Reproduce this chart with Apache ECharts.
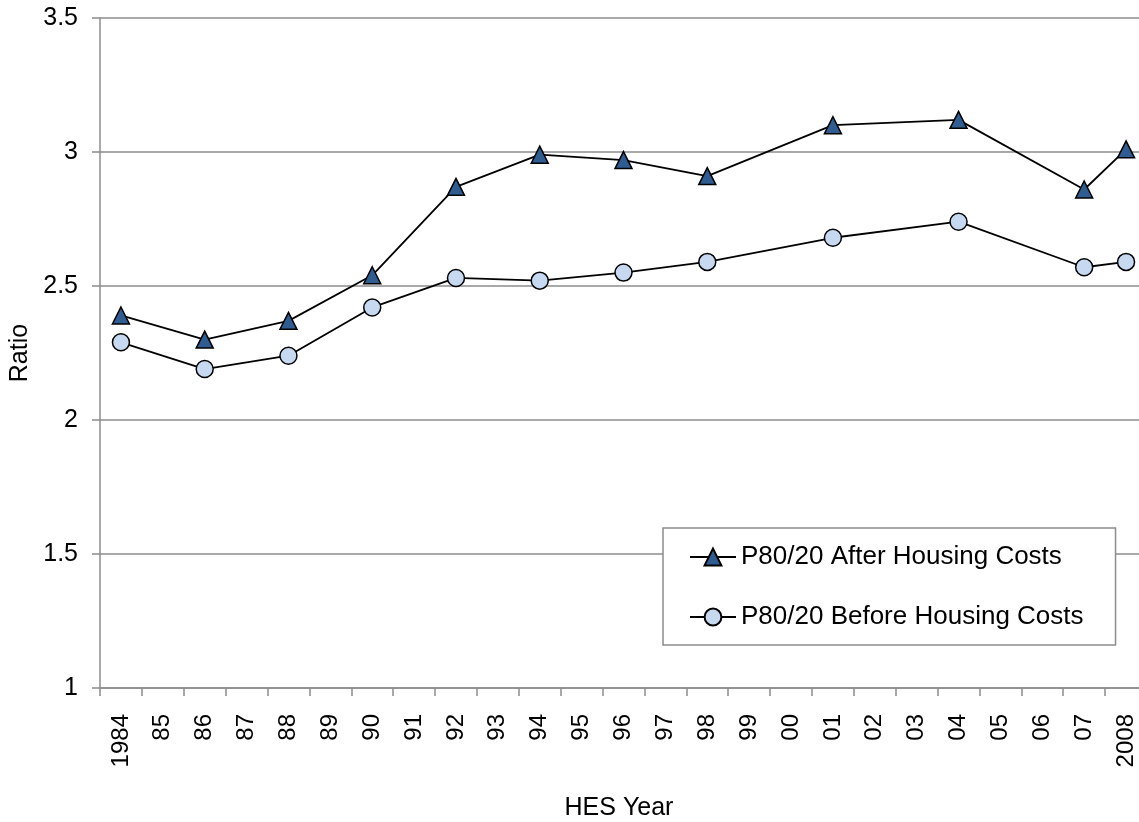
<!DOCTYPE html>
<html>
<head>
<meta charset="utf-8">
<script src="https://cdn.jsdelivr.net/npm/echarts@6/dist/echarts.min.js"></script>
<style>
html,body{margin:0;padding:0;background:#fff;}
#chart{width:1139px;height:822px;}
</style>
</head>
<body>
<div id="chart"></div>
<script>
const categories = ['1984','85','86','87','88','89','90','91','92','93','94','95','96','97','98','99','00','01','02','03','04','05','06','07','2008'];
const afterHousing = [2.39,null,2.30,null,2.37,null,2.54,null,2.87,null,2.99,null,2.97,null,2.91,null,null,3.10,null,null,3.12,null,null,2.86,3.01];
const beforeHousing = [2.29,null,2.19,null,2.24,null,2.42,null,2.53,null,2.52,null,2.55,null,2.59,null,null,2.68,null,null,2.74,null,null,2.57,2.59];
const seriesNames = ['P80/20 After Housing Costs','P80/20 Before Housing Costs'];
const yTicks = {min:1, max:3.5, interval:0.5};

const FONT = 'Liberation Sans, Arial, sans-serif';
const chart = echarts.init(document.getElementById('chart'), null, {renderer:'canvas'});
chart.setOption({
  animation:false,
  backgroundColor:'#ffffff',
  grid:{left:100, top:18, width:1047, height:670, containLabel:false, outerBoundsMode:'none'},
  legend:{
    left:663, top:528,
    orient:'vertical',
    backgroundColor:'#ffffff',
    borderColor:'#8c8c8c', borderWidth:1.5,
    padding:[16,32,15,26],
    itemGap:34,
    itemWidth:46, itemHeight:21,
    textStyle:{fontFamily:FONT, fontSize:26, color:'#000'},
    data:seriesNames
  },
  xAxis:{
    type:'category',
    data:categories,
    boundaryGap:true,
    name:'HES Year',
    nameLocation:'middle',
    nameGap:108,
    nameTextStyle:{fontFamily:FONT, fontSize:25, color:'#000', padding:[0,9,0,0]},
    axisLine:{lineStyle:{color:'#8c8c8c', width:1.5}},
    axisTick:{show:true, interval:0, length:8, lineStyle:{color:'#8c8c8c', width:1.5}},
    axisLabel:{interval:0, rotate:90, margin:26, fontFamily:FONT, fontSize:24, color:'#000'},
    splitLine:{show:false}
  },
  yAxis:{
    type:'value',
    min:yTicks.min, max:yTicks.max, interval:yTicks.interval,
    name:'Ratio',
    nameLocation:'middle',
    nameGap:67,
    nameTextStyle:{fontFamily:FONT, fontSize:25, color:'#000'},
    axisLine:{show:true, lineStyle:{color:'#8c8c8c', width:1.5}},
    axisTick:{show:true, length:8, lineStyle:{color:'#8c8c8c', width:1.5}},
    axisLabel:{margin:22, fontFamily:FONT, fontSize:25, color:'#000'},
    splitLine:{show:true, lineStyle:{color:'#8c8c8c', width:1.5}}
  },
  series:[
    {
      name:seriesNames[0], type:'line', data:afterHousing, connectNulls:true,
      symbol:'triangle', symbolSize:[17,17],
      lineStyle:{color:'#000', width:1.8},
      itemStyle:{color:'#2f5d91', borderColor:'#000', borderWidth:1.5},
      z:3
    },
    {
      name:seriesNames[1], type:'line', data:beforeHousing, connectNulls:true,
      symbol:'circle', symbolSize:17,
      lineStyle:{color:'#000', width:1.8},
      itemStyle:{color:'#c6d9f1', borderColor:'#000', borderWidth:1.5},
      z:2
    }
  ]
});
</script>
</body>
</html>
